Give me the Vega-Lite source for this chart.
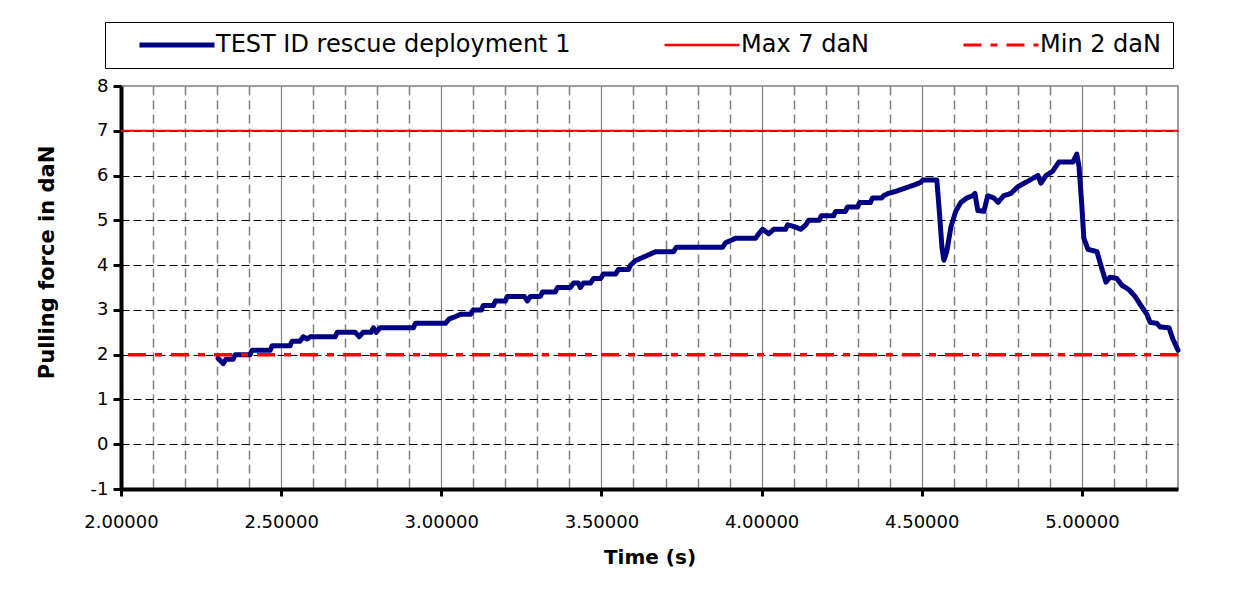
{
  "$schema": "https://vega.github.io/schema/vega-lite/v6.json",
  "width": 1057,
  "height": 403,
  "autosize": {"type": "none"},
  "padding": {"left": 121, "top": 86, "right": 77, "bottom": 119},
  "background": "white",
  "config": {
    "font": "DejaVu Sans",
    "view": {"stroke": "#808080", "strokeWidth": 1.5},
    "axis": {"labelColor": "black", "titleColor": "black", "labelFont": "DejaVu Sans", "titleFont": "DejaVu Sans"}
  },
  "data": {
    "values": [
      {"series": "TEST ID rescue deployment 1", "time": 2.303, "force": 1.92},
      {"series": "TEST ID rescue deployment 1", "time": 2.319, "force": 1.80},
      {"series": "TEST ID rescue deployment 1", "time": 2.328, "force": 1.90},
      {"series": "TEST ID rescue deployment 1", "time": 2.350, "force": 1.90},
      {"series": "TEST ID rescue deployment 1", "time": 2.356, "force": 2.00},
      {"series": "TEST ID rescue deployment 1", "time": 2.403, "force": 2.00},
      {"series": "TEST ID rescue deployment 1", "time": 2.409, "force": 2.10},
      {"series": "TEST ID rescue deployment 1", "time": 2.466, "force": 2.10},
      {"series": "TEST ID rescue deployment 1", "time": 2.472, "force": 2.20},
      {"series": "TEST ID rescue deployment 1", "time": 2.528, "force": 2.20},
      {"series": "TEST ID rescue deployment 1", "time": 2.534, "force": 2.30},
      {"series": "TEST ID rescue deployment 1", "time": 2.559, "force": 2.30},
      {"series": "TEST ID rescue deployment 1", "time": 2.569, "force": 2.40},
      {"series": "TEST ID rescue deployment 1", "time": 2.581, "force": 2.35},
      {"series": "TEST ID rescue deployment 1", "time": 2.591, "force": 2.40},
      {"series": "TEST ID rescue deployment 1", "time": 2.669, "force": 2.40},
      {"series": "TEST ID rescue deployment 1", "time": 2.675, "force": 2.50},
      {"series": "TEST ID rescue deployment 1", "time": 2.731, "force": 2.50},
      {"series": "TEST ID rescue deployment 1", "time": 2.744, "force": 2.40},
      {"series": "TEST ID rescue deployment 1", "time": 2.756, "force": 2.50},
      {"series": "TEST ID rescue deployment 1", "time": 2.781, "force": 2.50},
      {"series": "TEST ID rescue deployment 1", "time": 2.788, "force": 2.60},
      {"series": "TEST ID rescue deployment 1", "time": 2.797, "force": 2.50},
      {"series": "TEST ID rescue deployment 1", "time": 2.809, "force": 2.60},
      {"series": "TEST ID rescue deployment 1", "time": 2.913, "force": 2.60},
      {"series": "TEST ID rescue deployment 1", "time": 2.919, "force": 2.70},
      {"series": "TEST ID rescue deployment 1", "time": 3.013, "force": 2.70},
      {"series": "TEST ID rescue deployment 1", "time": 3.025, "force": 2.80},
      {"series": "TEST ID rescue deployment 1", "time": 3.044, "force": 2.85},
      {"series": "TEST ID rescue deployment 1", "time": 3.059, "force": 2.90},
      {"series": "TEST ID rescue deployment 1", "time": 3.091, "force": 2.90},
      {"series": "TEST ID rescue deployment 1", "time": 3.100, "force": 3.00},
      {"series": "TEST ID rescue deployment 1", "time": 3.125, "force": 3.00},
      {"series": "TEST ID rescue deployment 1", "time": 3.131, "force": 3.10},
      {"series": "TEST ID rescue deployment 1", "time": 3.163, "force": 3.10},
      {"series": "TEST ID rescue deployment 1", "time": 3.169, "force": 3.20},
      {"series": "TEST ID rescue deployment 1", "time": 3.200, "force": 3.20},
      {"series": "TEST ID rescue deployment 1", "time": 3.206, "force": 3.30},
      {"series": "TEST ID rescue deployment 1", "time": 3.259, "force": 3.30},
      {"series": "TEST ID rescue deployment 1", "time": 3.269, "force": 3.20},
      {"series": "TEST ID rescue deployment 1", "time": 3.278, "force": 3.30},
      {"series": "TEST ID rescue deployment 1", "time": 3.309, "force": 3.30},
      {"series": "TEST ID rescue deployment 1", "time": 3.316, "force": 3.40},
      {"series": "TEST ID rescue deployment 1", "time": 3.356, "force": 3.40},
      {"series": "TEST ID rescue deployment 1", "time": 3.363, "force": 3.50},
      {"series": "TEST ID rescue deployment 1", "time": 3.403, "force": 3.50},
      {"series": "TEST ID rescue deployment 1", "time": 3.413, "force": 3.60},
      {"series": "TEST ID rescue deployment 1", "time": 3.428, "force": 3.60},
      {"series": "TEST ID rescue deployment 1", "time": 3.434, "force": 3.50},
      {"series": "TEST ID rescue deployment 1", "time": 3.444, "force": 3.60},
      {"series": "TEST ID rescue deployment 1", "time": 3.466, "force": 3.60},
      {"series": "TEST ID rescue deployment 1", "time": 3.475, "force": 3.70},
      {"series": "TEST ID rescue deployment 1", "time": 3.497, "force": 3.70},
      {"series": "TEST ID rescue deployment 1", "time": 3.506, "force": 3.80},
      {"series": "TEST ID rescue deployment 1", "time": 3.544, "force": 3.80},
      {"series": "TEST ID rescue deployment 1", "time": 3.553, "force": 3.90},
      {"series": "TEST ID rescue deployment 1", "time": 3.584, "force": 3.90},
      {"series": "TEST ID rescue deployment 1", "time": 3.591, "force": 4.00},
      {"series": "TEST ID rescue deployment 1", "time": 3.606, "force": 4.10},
      {"series": "TEST ID rescue deployment 1", "time": 3.638, "force": 4.20},
      {"series": "TEST ID rescue deployment 1", "time": 3.669, "force": 4.30},
      {"series": "TEST ID rescue deployment 1", "time": 3.725, "force": 4.30},
      {"series": "TEST ID rescue deployment 1", "time": 3.734, "force": 4.40},
      {"series": "TEST ID rescue deployment 1", "time": 3.878, "force": 4.40},
      {"series": "TEST ID rescue deployment 1", "time": 3.888, "force": 4.50},
      {"series": "TEST ID rescue deployment 1", "time": 3.919, "force": 4.60},
      {"series": "TEST ID rescue deployment 1", "time": 3.981, "force": 4.60},
      {"series": "TEST ID rescue deployment 1", "time": 3.991, "force": 4.70},
      {"series": "TEST ID rescue deployment 1", "time": 4.003, "force": 4.80},
      {"series": "TEST ID rescue deployment 1", "time": 4.022, "force": 4.70},
      {"series": "TEST ID rescue deployment 1", "time": 4.038, "force": 4.80},
      {"series": "TEST ID rescue deployment 1", "time": 4.075, "force": 4.80},
      {"series": "TEST ID rescue deployment 1", "time": 4.081, "force": 4.90},
      {"series": "TEST ID rescue deployment 1", "time": 4.106, "force": 4.85},
      {"series": "TEST ID rescue deployment 1", "time": 4.122, "force": 4.80},
      {"series": "TEST ID rescue deployment 1", "time": 4.138, "force": 4.90},
      {"series": "TEST ID rescue deployment 1", "time": 4.147, "force": 5.00},
      {"series": "TEST ID rescue deployment 1", "time": 4.180, "force": 5.00},
      {"series": "TEST ID rescue deployment 1", "time": 4.186, "force": 5.10},
      {"series": "TEST ID rescue deployment 1", "time": 4.225, "force": 5.10},
      {"series": "TEST ID rescue deployment 1", "time": 4.231, "force": 5.20},
      {"series": "TEST ID rescue deployment 1", "time": 4.262, "force": 5.20},
      {"series": "TEST ID rescue deployment 1", "time": 4.268, "force": 5.30},
      {"series": "TEST ID rescue deployment 1", "time": 4.300, "force": 5.30},
      {"series": "TEST ID rescue deployment 1", "time": 4.306, "force": 5.40},
      {"series": "TEST ID rescue deployment 1", "time": 4.340, "force": 5.40},
      {"series": "TEST ID rescue deployment 1", "time": 4.346, "force": 5.50},
      {"series": "TEST ID rescue deployment 1", "time": 4.375, "force": 5.50},
      {"series": "TEST ID rescue deployment 1", "time": 4.381, "force": 5.55},
      {"series": "TEST ID rescue deployment 1", "time": 4.395, "force": 5.60},
      {"series": "TEST ID rescue deployment 1", "time": 4.420, "force": 5.65},
      {"series": "TEST ID rescue deployment 1", "time": 4.440, "force": 5.70},
      {"series": "TEST ID rescue deployment 1", "time": 4.460, "force": 5.75},
      {"series": "TEST ID rescue deployment 1", "time": 4.480, "force": 5.80},
      {"series": "TEST ID rescue deployment 1", "time": 4.497, "force": 5.85},
      {"series": "TEST ID rescue deployment 1", "time": 4.503, "force": 5.90},
      {"series": "TEST ID rescue deployment 1", "time": 4.547, "force": 5.90},
      {"series": "TEST ID rescue deployment 1", "time": 4.556, "force": 5.10},
      {"series": "TEST ID rescue deployment 1", "time": 4.563, "force": 4.40},
      {"series": "TEST ID rescue deployment 1", "time": 4.569, "force": 4.11},
      {"series": "TEST ID rescue deployment 1", "time": 4.578, "force": 4.30},
      {"series": "TEST ID rescue deployment 1", "time": 4.591, "force": 4.85},
      {"series": "TEST ID rescue deployment 1", "time": 4.606, "force": 5.20},
      {"series": "TEST ID rescue deployment 1", "time": 4.622, "force": 5.40},
      {"series": "TEST ID rescue deployment 1", "time": 4.641, "force": 5.50},
      {"series": "TEST ID rescue deployment 1", "time": 4.659, "force": 5.55},
      {"series": "TEST ID rescue deployment 1", "time": 4.666, "force": 5.60},
      {"series": "TEST ID rescue deployment 1", "time": 4.675, "force": 5.22},
      {"series": "TEST ID rescue deployment 1", "time": 4.694, "force": 5.20},
      {"series": "TEST ID rescue deployment 1", "time": 4.706, "force": 5.55},
      {"series": "TEST ID rescue deployment 1", "time": 4.725, "force": 5.50},
      {"series": "TEST ID rescue deployment 1", "time": 4.738, "force": 5.40},
      {"series": "TEST ID rescue deployment 1", "time": 4.756, "force": 5.55},
      {"series": "TEST ID rescue deployment 1", "time": 4.778, "force": 5.60},
      {"series": "TEST ID rescue deployment 1", "time": 4.800, "force": 5.75},
      {"series": "TEST ID rescue deployment 1", "time": 4.825, "force": 5.85},
      {"series": "TEST ID rescue deployment 1", "time": 4.850, "force": 5.95},
      {"series": "TEST ID rescue deployment 1", "time": 4.863, "force": 6.00},
      {"series": "TEST ID rescue deployment 1", "time": 4.872, "force": 5.83},
      {"series": "TEST ID rescue deployment 1", "time": 4.888, "force": 6.00},
      {"series": "TEST ID rescue deployment 1", "time": 4.909, "force": 6.10},
      {"series": "TEST ID rescue deployment 1", "time": 4.928, "force": 6.30},
      {"series": "TEST ID rescue deployment 1", "time": 4.972, "force": 6.30},
      {"series": "TEST ID rescue deployment 1", "time": 4.984, "force": 6.48},
      {"series": "TEST ID rescue deployment 1", "time": 4.991, "force": 6.20},
      {"series": "TEST ID rescue deployment 1", "time": 5.000, "force": 5.30},
      {"series": "TEST ID rescue deployment 1", "time": 5.006, "force": 4.60},
      {"series": "TEST ID rescue deployment 1", "time": 5.019, "force": 4.35},
      {"series": "TEST ID rescue deployment 1", "time": 5.047, "force": 4.30},
      {"series": "TEST ID rescue deployment 1", "time": 5.059, "force": 4.00},
      {"series": "TEST ID rescue deployment 1", "time": 5.075, "force": 3.62},
      {"series": "TEST ID rescue deployment 1", "time": 5.088, "force": 3.73},
      {"series": "TEST ID rescue deployment 1", "time": 5.109, "force": 3.70},
      {"series": "TEST ID rescue deployment 1", "time": 5.125, "force": 3.55},
      {"series": "TEST ID rescue deployment 1", "time": 5.147, "force": 3.45},
      {"series": "TEST ID rescue deployment 1", "time": 5.166, "force": 3.30},
      {"series": "TEST ID rescue deployment 1", "time": 5.184, "force": 3.10},
      {"series": "TEST ID rescue deployment 1", "time": 5.203, "force": 2.90},
      {"series": "TEST ID rescue deployment 1", "time": 5.213, "force": 2.72},
      {"series": "TEST ID rescue deployment 1", "time": 5.234, "force": 2.70},
      {"series": "TEST ID rescue deployment 1", "time": 5.244, "force": 2.62},
      {"series": "TEST ID rescue deployment 1", "time": 5.272, "force": 2.60},
      {"series": "TEST ID rescue deployment 1", "time": 5.284, "force": 2.35},
      {"series": "TEST ID rescue deployment 1", "time": 5.300, "force": 2.10},
      {"series": "Max 7 daN", "force": 7},
      {"series": "Min 2 daN", "force": 2}
    ]
  },
  "encoding": {
    "y": {
      "field": "force",
      "type": "quantitative",
      "scale": {"domain": [-1, 8], "nice": false, "zero": false},
      "axis": {
        "values": [-1, 0, 1, 2, 3, 4, 5, 6, 7, 8],
        "labelExpr": "'' + datum.value",
        "title": "Pulling force in daN",
        "titleFontSize": 21,
        "titleFontWeight": "bold",
        "titlePadding": 33,
        "titleY": 176,
        "labelFontSize": 18,
        "labelPadding": 5,
        "domainColor": "black",
        "domainWidth": 4,
        "tickColor": "black",
        "tickWidth": 3,
        "tickSize": 8,
        "grid": true,
        "gridColor": "black",
        "gridWidth": 1,
        "gridDash": [8, 4],
        "gridOpacity": {"condition": {"test": "datum.value >= 8 || datum.value <= -1", "value": 0}, "value": 1}
      }
    },
    "color": {
      "field": "series",
      "type": "nominal",
      "scale": {
        "domain": ["TEST ID rescue deployment 1", "Max 7 daN", "Min 2 daN"],
        "range": ["#000080", "#ff0000", "#ff0000"]
      },
      "legend": {
        "title": null,
        "orient": "none",
        "legendX": -16,
        "legendY": -64,
        "direction": "horizontal",
        "columns": 3,
        "columnPadding": 70,
        "padding": 11,
        "strokeColor": "black",
        "fillColor": "white",
        "symbolType": "M-5,0H5",
        "symbolSize": 225,
        "symbolOffset": 49,
        "labelOffset": 27,
        "labelFont": "DejaVu Sans",
        "labelFontSize": 24,
        "labelColor": "black",
        "labelLimit": 600,
        "encode": {
          "symbols": {
            "update": {
              "strokeWidth": {"signal": "datum.value === 'TEST ID rescue deployment 1' ? 5 : datum.value === 'Max 7 daN' ? 2.5 : 3"}
            }
          }
        }
      }
    },
    "strokeDash": {
      "field": "series",
      "type": "nominal",
      "scale": {
        "domain": ["TEST ID rescue deployment 1", "Max 7 daN", "Min 2 daN"],
        "range": [[1, 0], [1, 0], [18, 9, 7, 9]]
      }
    }
  },
  "layer": [
    {
      "transform": [{"filter": "datum.series === 'TEST ID rescue deployment 1'"}],
      "mark": {"type": "line", "strokeWidth": 5, "strokeJoin": "round", "strokeCap": "round"},
      "encoding": {
        "x": {
          "field": "time",
          "type": "quantitative",
          "scale": {"domain": [2, 5.3], "nice": false, "zero": false},
          "axis": {
            "values": [2, 2.1, 2.2, 2.3, 2.4, 2.5, 2.6, 2.7, 2.8, 2.9, 3, 3.1, 3.2, 3.3, 3.4, 3.5, 3.6, 3.7, 3.8, 3.9, 4, 4.1, 4.2, 4.3, 4.4, 4.5, 4.6, 4.7, 4.8, 4.9, 5, 5.1, 5.2],
            "labelExpr": "abs(datum.value*2 - round(datum.value*2)) < 0.001 ? format(datum.value, '.5f') : ''",
            "labelOverlap": false,
            "labelFlush": false,
            "labelFontSize": 18,
            "labelPadding": 17,
            "title": "Time (s)",
            "titleFontSize": 20,
            "titleFontWeight": "bold",
            "titlePadding": 16,
            "domainColor": "black",
            "domainWidth": 4,
            "tickColor": {"condition": {"test": "abs(datum.value*2 - round(datum.value*2)) < 0.001", "value": "black"}, "value": "#808080"},
            "tickWidth": {"condition": {"test": "abs(datum.value*2 - round(datum.value*2)) < 0.001", "value": 3}, "value": 1},
            "tickSize": {"condition": {"test": "abs(datum.value*2 - round(datum.value*2)) < 0.001", "value": 7}, "value": -5},
            "grid": true,
            "gridColor": "#808080",
            "gridWidth": {"condition": {"test": "abs(datum.value*2 - round(datum.value*2)) < 0.001", "value": 1.2}, "value": 1.5},
            "gridDash": {"condition": {"test": "abs(datum.value*2 - round(datum.value*2)) < 0.001", "value": []}, "value": [9, 5]}
          }
        }
      }
    },
    {
      "transform": [{"filter": "datum.series === 'Max 7 daN'"}],
      "mark": {"type": "rule", "strokeWidth": 2}
    },
    {
      "transform": [{"filter": "datum.series === 'Min 2 daN'"}],
      "mark": {"type": "rule", "strokeWidth": 3.5}
    }
  ]
}
